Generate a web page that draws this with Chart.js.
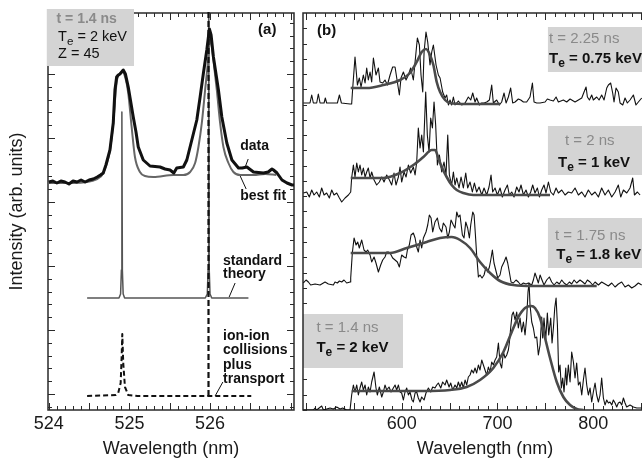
<!DOCTYPE html>
<html><head><meta charset="utf-8">
<script src="https://cdn.jsdelivr.net/npm/chart.js@4.4.0/dist/chart.umd.min.js"></script>
<style>
html,body{margin:0;padding:0;background:#fff;overflow:hidden;width:642px;height:462px;}
#wrap{position:relative;width:642px;height:462px;overflow:hidden;background:#fff;}
#ca{position:absolute;left:0;top:0;width:300px;height:462px;}
#cb{position:absolute;left:300px;top:0;width:370px;height:462px;}
</style></head><body>
<div id="wrap"><canvas id="ca" width="300" height="462"></canvas><canvas id="cb" width="370" height="462"></canvas></div>
<script>
const FONT = '"Liberation Sans", Arial, Helvetica, sans-serif';

// ---------- Panel (a): wavelength (nm) vs intensity (arb. units) ----------
const aTicks = [524, 525, 526];
const aDataX = [524.00,524.05,524.10,524.15,524.20,524.25,524.30,524.35,524.40,524.45,
  524.50,524.55,524.60,524.64,524.675,524.708,524.758,524.799,524.82,524.841,
  524.861,524.882,524.923,524.95,524.985,525.012,525.047,525.081,525.109,525.171,
  525.255,525.379,525.441,525.503,525.55,525.586,525.668,525.711,525.773,525.835,
  525.876,525.917,525.959,525.991,526.012,526.041,526.103,526.145,526.207,526.27,
  526.352,526.398,526.456,526.538,526.662,526.72,526.767,526.786,526.829,526.891,
  526.953,527.015,527.04];
const aDataY = [228,229,227,229,228,226,229,228,230,228,
  230,231,233,235,237,245,260,287,320,333,
  335,336,340,336,323,310,293,278,263,250,
  244,243,241,240,237,242,243,250,270,290,
  313,337,360,381,375,353,320,293,267,250,
  242,242,243,238,237,238,241,240,237,230,
  227,225,225];
const aFitX = [524.00,524.30,524.60,524.675,524.758,524.799,524.841,524.882,524.913,524.95,
  524.985,525.027,525.068,525.13,525.193,525.296,525.544,525.668,525.752,525.814,
  525.855,525.897,525.938,525.979,525.998,526.019,526.041,526.083,526.124,526.165,
  526.227,526.289,526.373,526.538,526.683,526.82];
const aFitY = [227,227,231,237,260,287,328,336,338,332,
  317,283,253,238,234,233,235,235,238,247,
  263,287,320,353,372,365,350,320,287,263,
  247,238,235,235,236,235];
const aStdX = [524.475,524.87,524.89,524.9,524.906,524.912,524.922,524.94,525.94,525.965,525.975,525.982,525.989,525.999,526.02,526.475];
const aStdY = [112,112,116,140,298,140,116,112,112,116,140,500,140,116,112,112];
const aIonX = [524.475,524.83,524.861,524.891,524.903,524.911,524.923,524.944,524.985,525.1,526.51];
const aIonY = [14,15,17,27,53,76,47,23,15,14,14];
const aIonSpikeX = [525.98,525.98];
const aIonSpikeY = [14,500];

// ---------- Panel (b): four time-resolved spectra ----------
const bTicks = [600, 700, 800];
const b225X = [497.4,504.3,506.1,507.8,511.3,513.0,514.8,519.0,520.3,521.7,
 532.9,535.0,537.1,546.1,547.8,548.9,551.3,553.8,555.8,557.6,
 560.0,561.8,563.5,565.2,567.0,568.7,570.5,573.2,575.7,577.4,
 580.2,582.6,585.1,587.9,590.6,593.1,595.5,597.6,599.3,601.8,
 604.6,607.0,609.4,612.2,615.0,616.4,618.5,620.2,622.0,623.4,
 625.4,627.2,629.6,631.4,633.1,635.9,638.3,640.1,642.8,645.3,
 647.0,648.8,650.5,652.2,654.0,655.7,659.2,662.7,666.2,669.6,
 672.1,674.2,676.6,678.3,681.1,683.6,686.0,688.8,691.6,694.0,
 695.7,699.2,702.0,704.4,706.9,709.0,711.4,713.8,715.9,718.4,
 721.8,724.3,727.1,730.5,734.0,736.5,738.2,741.0,744.5,749.7,
 752.1,754.9,758.4,761.2,763.6,768.8,772.3,775.8,781.0,784.5,
 788.0,790.4,792.5,793.9,796.0,798.4,800.1,803.6,806.1,808.8,
 811.3,814.1,815.8,818.2,820.3,821.7,823.8,826.2,828.0,830.8,
 833.2,835.6,838.4,841.9,844.6,847.1,850.6];
const b225Y = [307,307,315,307,307,316,307,307,312,307,
 307,315,307,306,306,322,353,325,332,323,
 335,327,342,330,338,328,352,335,342,328,
 327,330,325,335,343,343,328,315,332,338,
 330,335,342,330,358,372,365,335,318,358,
 378,368,345,358,365,345,335,332,318,312,
 315,305,310,305,313,305,309,305,307,313,
 310,317,308,312,305,307,307,308,310,325,
 307,310,305,308,317,307,313,322,307,308,
 311,310,308,308,313,327,308,307,307,308,
 311,310,309,313,308,310,308,311,308,310,
 312,318,323,313,310,315,310,313,310,315,
 310,322,325,327,317,308,322,318,307,305,
 312,307,310,315,305,308,312];
const b225FitX = [546.8,563.5,580.9,598.3,608.7,615.7,620.9,625.4,629.6,633.1,636.6,640.1,645.3,650.5,667.9,702.7];
const b225FitY = [322,322,325,330,337,348,358,361,355,345,328,318,310,307,306,306];

const b200X = [497.4,500.9,503.6,506.1,508.5,511.3,514.1,516.5,519.0,521.7,
 524.5,527.0,529.4,532.2,535.0,537.4,540.9,544.4,546.8,547.8,
 549.6,551.3,553.1,554.8,556.5,558.3,560.0,561.8,563.5,565.2,
 567.0,568.7,571.2,573.9,576.7,579.2,581.6,584.4,587.2,589.6,
 592.0,594.1,596.6,598.3,600.0,602.5,604.6,607.0,609.4,612.2,
 614.0,615.7,617.4,619.2,620.9,622.7,625.1,626.8,628.6,630.3,
 632.1,633.8,635.5,637.3,639.4,641.8,644.2,646.3,648.1,649.8,
 652.2,654.0,655.7,657.5,659.9,662.0,664.4,666.9,668.9,671.4,
 673.8,675.9,678.3,680.8,683.6,686.0,688.8,691.2,693.3,695.0,
 697.5,699.9,702.7,705.1,707.9,710.4,712.4,714.9,717.3,720.1,
 722.5,724.6,727.1,729.8,732.3,734.7,736.8,739.2,741.7,743.8,
 746.2,748.6,750.7,753.2,755.6,758.4,761.2,763.6,767.1,770.6,
 774.0,777.5,781.0,784.5,788.0,791.4,794.9,798.4,801.9,805.4,
 808.8,812.3,815.8,819.3,822.8,826.2,828.7,831.5,835.0,838.4,
 841.2,843.0,846.1,848.9];
const b200Y = [217,218,213,220,215,218,213,222,215,217,
 212,220,215,217,212,208,212,215,218,232,
 245,233,247,238,245,235,242,233,238,242,
 232,238,230,225,228,233,228,235,230,225,
 237,225,233,243,228,238,233,245,237,243,
 235,248,282,262,275,258,318,275,258,292,
 282,308,285,245,255,238,248,235,275,235,
 225,238,225,232,222,233,222,237,222,228,
 218,227,218,223,215,222,215,223,235,218,
 222,215,222,213,220,225,215,218,213,223,
 218,225,215,220,213,218,225,217,222,213,
 220,225,217,228,218,215,222,217,220,215,
 218,217,222,215,218,213,220,215,218,213,
 222,215,220,213,218,225,213,220,217,222,
 232,215,218,215];
const b200FitX = [546.8,580.9,598.3,612.2,622.7,631.4,634.8,638.3,641.8,647.0,652.2,657.5,664.4,674.9,702.7,754.9];
const b200FitY = [232,232,237,245,253,260,260,252,243,233,225,220,217,215,215,215];

const b175X = [497.4,500.2,502.6,505.0,509.6,514.8,520.0,523.5,528.7,530.4,
 532.9,535.0,537.4,539.8,542.6,546.1,546.8,548.5,550.3,552.4,
 554.1,555.8,558.3,560.7,562.8,564.5,567.0,568.7,571.2,573.2,
 575.7,578.1,580.2,582.6,584.4,586.1,587.9,590.6,593.1,595.5,
 597.6,600.0,602.5,604.6,606.0,608.0,609.8,612.2,614.0,615.7,
 617.4,619.2,620.9,622.7,625.4,627.2,628.9,630.7,632.4,634.8,
 637.3,639.4,641.8,643.5,646.3,648.1,649.8,651.5,654.0,655.7,
 657.5,659.2,660.9,663.4,665.1,666.9,668.9,670.7,672.1,674.2,
 675.6,677.0,678.3,680.1,681.8,683.9,686.0,688.1,689.8,691.6,
 693.0,694.7,696.4,698.2,700.3,702.7,704.4,706.9,709.0,710.7,
 712.4,714.2,716.6,719.4,721.8,724.3,727.1,729.8,732.3,735.8,
 737.5,739.2,741.0,742.7,744.5,746.5,748.6,751.4,754.2,756.6,
 759.1,761.9,764.6,767.1,769.5,772.3,775.1,777.5,780.0,782.7,
 786.2,789.0,791.4,793.9,796.7,799.4,801.9,805.4,808.8,812.3,
 815.8,819.3,822.8,826.2,829.7,833.2,836.7,840.2,843.6,847.1,
 850.6];
const b175Y = [127,130,128,125,126,125,128,126,125,128,
 127,129,128,130,127,128,132,157,172,165,
 168,162,170,160,158,160,155,148,153,147,
 138,145,150,153,158,158,157,152,150,148,
 143,155,153,152,160,165,175,177,172,163,
 158,170,162,172,178,185,195,192,178,188,
 192,182,178,187,183,172,178,190,185,182,
 198,193,195,175,172,188,182,172,185,198,
 195,175,155,133,135,132,135,143,138,143,
 150,160,147,140,132,135,143,148,153,147,
 138,128,127,130,128,125,127,126,127,125,
 130,137,132,127,135,130,125,130,133,128,
 125,128,126,130,127,125,128,126,130,127,
 130,128,126,130,128,125,128,125,128,126,
 124,127,123,126,128,123,125,122,124,127,
 125];
const b175FitX = [546.8,587.9,605.3,626.1,640.1,652.2,661.0,671.4,681.8,692.3,702.7,716.6,737.5,772.3,803.6];
const b175FitY = [157,157,162,168,172,173,170,162,148,137,129,125,124,124,124];

const b140X = [497.4,507.8,509.6,511.3,516.5,518.3,525.2,528.7,532.2,535.7,
 538.4,542.6,546.1,547.8,549.6,551.3,553.1,554.8,556.5,558.3,
 560.0,561.8,563.5,565.2,567.0,568.7,571.2,573.2,574.6,576.7,
 579.2,580.9,582.6,584.4,586.8,588.9,591.3,593.1,594.8,596.6,
 598.3,600.0,601.8,603.5,605.3,607.0,608.7,610.8,612.2,614.0,
 615.7,617.4,619.2,620.9,623.4,625.4,627.9,630.3,632.4,634.8,
 636.6,638.3,640.8,642.8,645.3,647.0,649.5,651.2,653.3,655.7,
 657.5,659.2,660.9,662.7,664.4,666.2,667.9,669.6,671.4,673.1,
 674.9,676.6,678.3,680.1,681.8,683.6,685.3,687.0,688.8,690.5,
 692.3,694.0,695.7,697.5,699.2,701.0,702.7,704.4,706.2,707.9,
 709.7,711.4,712.4,713.8,715.2,716.6,718.4,720.1,721.8,723.6,
 725.3,727.1,728.8,730.5,731.9,733.0,734.0,735.8,737.5,739.2,
 741.0,742.7,744.5,746.2,747.2,748.6,750.4,752.1,753.5,755.6,
 757.0,758.4,759.8,761.2,762.6,763.9,765.3,766.7,768.1,769.5,
 771.3,772.3,774.0,775.8,777.5,779.3,781.0,782.7,784.5,786.2,
 788.0,789.7,791.4,793.2,794.9,796.7,798.4,800.1,801.9,803.6,
 805.4,807.1,808.8,810.6,812.3,814.1,815.8,817.5,819.3,821.0,
 822.8,824.5,826.2,828.0,829.7,831.5,833.2,834.9,838.4,841.9,
 845.4,850.6];
const b140Y = [0,0,2,0,4,0,2,1,3,1,
 2,0,0,15,25,18,25,15,22,28,
 20,25,15,23,18,28,38,22,15,23,
 13,18,25,20,23,18,22,25,20,25,
 18,17,10,18,22,15,18,10,8,17,
 18,12,8,13,10,17,22,18,23,22,
 25,27,22,28,25,30,23,27,20,25,
 22,28,23,28,22,30,25,33,35,40,
 37,42,37,45,40,50,45,40,35,43,
 38,48,45,50,53,67,47,42,58,52,
 55,60,67,82,95,98,90,98,82,92,
 78,88,75,92,118,127,105,88,82,72,
 73,55,65,93,72,92,70,97,75,92,
 67,82,102,112,85,38,45,22,32,18,
 42,25,45,28,58,48,32,47,25,28,
 15,30,42,25,15,22,8,18,27,15,
 8,15,32,12,5,10,7,8,5,10,
 7,3,7,8,5,12,7,3,5,3,
 2,2];
const b140FitX = [547.8,580.9,622.7,650.5,667.9,681.8,695.7,706.2,714.9,721.8,728.8,735.1,739.2,744.5,749.7,754.9,761.9,768.8,775.8,782.8,789.7];
const b140FitY = [19,19,19,20,23,30,42,58,78,93,102,104,102,92,72,52,28,13,5,1,0];

// ---------- helpers ----------
const pts = (xs, ys) => xs.map((x, i) => ({x: x, y: ys[i]}));

function tickValues(min, max, step, off) {
  const out = [];
  let k = Math.ceil((min - off) / step - 1e-6);
  for (; off + k * step <= max + 1e-6; k++) out.push(off + k * step);
  return out;
}
function isMajor(v, major, off) {
  if (!major) return false;
  const r = (v - off) / major;
  return Math.abs(r - Math.round(r)) < 1e-4;
}
function setFont(ctx, size, bold) {
  ctx.font = (bold ? 'bold ' : '') + size + 'px ' + FONT;
}
function drawRich(ctx, x, y, parts, size, bold, color, align) {
  const subSize = size * 0.8;
  const widths = parts.map(p => { setFont(ctx, p[1] ? subSize : size, bold); return ctx.measureText(p[0]).width; });
  const total = widths.reduce((a, b) => a + b, 0);
  let cx = align === 'center' ? x - total / 2 : x;
  ctx.fillStyle = color; ctx.textBaseline = 'alphabetic'; ctx.textAlign = 'left';
  parts.forEach((p, i) => {
    setFont(ctx, p[1] ? subSize : size, bold);
    ctx.fillText(p[0], cx, p[1] ? y + size * 0.25 : y);
    cx += widths[i];
  });
}

function makeDecor(cfg) {
  return {
    id: 'decor',
    beforeDatasetsDraw(chart) {
      const {ctx, chartArea: a} = chart;
      const xs = chart.scales.x, ys = chart.scales.y;
      const X = v => xs.getPixelForValue(v), Y = v => ys.getPixelForValue(v);
      const fillBox = b => {
        const x0 = X(b.x0), x1 = X(b.x1), y0 = Y(b.y1), y1 = Y(b.y0);
        ctx.fillRect(x0, y0, x1 - x0, y1 - y0);
      };
      ctx.save();
      // inward ticks
      ctx.strokeStyle = '#2a2a2a'; ctx.lineWidth = 1; ctx.beginPath();
      tickValues(xs.min, xs.max, cfg.xStep, 0).forEach(v => {
        const p = Math.round(X(v)) + 0.5;
        const L = isMajor(v, cfg.xMajor, 0) ? 7 : 4;
        ctx.moveTo(p, a.bottom); ctx.lineTo(p, a.bottom - L);
        ctx.moveTo(p, a.top); ctx.lineTo(p, a.top + L);
      });
      tickValues(ys.min, ys.max, cfg.yStep, cfg.yOff).forEach(v => {
        const p = Math.round(Y(v)) + 0.5;
        const L = isMajor(v, cfg.yMajor, cfg.yOff) ? 7 : 4;
        ctx.moveTo(a.left, p); ctx.lineTo(a.left + L, p);
        ctx.moveTo(a.right, p); ctx.lineTo(a.right - L, p);
      });
      ctx.stroke();
      // grey label boxes (inside the frame)
      ctx.save();
      ctx.beginPath(); ctx.rect(a.left, a.top, a.right - a.left, a.bottom - a.top); ctx.clip();
      ctx.fillStyle = '#d4d4d4';
      cfg.boxes.filter(b => !b.over).forEach(fillBox);
      ctx.restore();
      // frame
      ctx.strokeStyle = '#2a2a2a'; ctx.lineWidth = 1.5;
      ctx.strokeRect(a.left, a.top, a.right - a.left, a.bottom - a.top);
      // boxes that sit over the frame
      ctx.fillStyle = '#d4d4d4';
      cfg.boxes.filter(b => b.over).forEach(fillBox);
      // texts
      cfg.texts.forEach(t => {
        const parts = typeof t.s === 'string' ? [[t.s, 0]] : t.s;
        drawRich(ctx, X(t.x), Y(t.y), parts, t.size, t.bold, t.color || '#111', t.align);
      });
      ctx.restore();
    },
    afterDatasetsDraw(chart) {
      const {ctx} = chart;
      const xs = chart.scales.x, ys = chart.scales.y;
      ctx.save(); ctx.strokeStyle = '#111'; ctx.lineWidth = 1; ctx.beginPath();
      (cfg.pointers || []).forEach(p => {
        ctx.moveTo(xs.getPixelForValue(p[0]), ys.getPixelForValue(p[1]));
        ctx.lineTo(xs.getPixelForValue(p[2]), ys.getPixelForValue(p[3]));
      });
      ctx.stroke(); ctx.restore();
    }
  };
}

function xAxis(min, max, ticks) {
  return {
    type: 'linear', min: min, max: max,
    afterBuildTicks: s => { s.ticks = ticks.map(v => ({value: v})); },
    afterFit: s => { s.height = 52; },
    grid: {display: false, drawTicks: false}, border: {display: false},
    ticks: {font: {family: FONT, size: 18}, color: '#1a1a1a', padding: 3, maxRotation: 0, autoSkip: false, callback: v => String(v)},
    title: {display: true, text: 'Wavelength (nm)', font: {family: FONT, size: 18}, color: '#1a1a1a', padding: {top: 0, bottom: 2}}
  };
}
function common(padding) {
  return {
    responsive: false, animation: false, devicePixelRatio: 1, events: [],
    layout: {padding: padding},
    plugins: {legend: {display: false}, tooltip: {enabled: false}},
    elements: {point: {radius: 0}, line: {tension: 0, borderJoinStyle: 'round'}}
  };
}

// ---------- chart (a) ----------
const optA = common({left: 0, right: 6, top: 13, bottom: 0});
optA.scales = {
  x: xAxis(523.99, 527.04, aTicks),
  y: {type: 'linear', min: 0, max: 397, afterFit: s => { s.width = 48; },
      ticks: {display: false}, grid: {display: false, drawTicks: false}, border: {display: false},
      title: {display: true, text: 'Intensity (arb. units)', font: {family: FONT, size: 18}, color: '#1a1a1a', padding: {top: 6, bottom: 0}}}
};
new Chart(document.getElementById('ca'), {
  type: 'line',
  data: {datasets: [
    {label: 'ion-ion spike', data: pts(aIonSpikeX, aIonSpikeY), borderColor: '#111', borderWidth: 2.2, borderDash: [6, 3], clip: {left: 0, top: 4, right: 0, bottom: 0}, order: 0},
    {label: 'data', data: pts(aDataX, aDataY), borderColor: '#111', borderWidth: 3, order: 1},
    {label: 'best fit', data: pts(aFitX, aFitY), borderColor: '#666', borderWidth: 2, cubicInterpolationMode: 'monotone', order: 2},
    {label: 'standard theory', data: pts(aStdX, aStdY), borderColor: '#555', borderWidth: 1.5, order: 3},
    {label: 'ion-ion collisions plus transport', data: pts(aIonX, aIonY), borderColor: '#111', borderWidth: 2, borderDash: [5, 3], order: 4}
  ]},
  options: optA,
  plugins: [makeDecor({
    xStep: 0.1, xMajor: 0.5, yStep: 12.8, yMajor: 64, yOff: 16,
    boxes: [{x0: 523.975, x1: 525.056, y0: 344, y1: 401, over: true}],
    texts: [
      {x: 524.096, y: 387, s: 't = 1.4 ns', size: 14, bold: true, color: '#8a8a8a'},
      {x: 524.115, y: 369, s: [['T', 0], ['e', 1], [' = 2 keV', 0]], size: 14.5},
      {x: 524.115, y: 352, s: 'Z = 45', size: 14.5},
      {x: 526.708, y: 376, s: '(a)', size: 15, bold: true, align: 'center'},
      {x: 526.373, y: 260, s: 'data', size: 14, bold: true},
      {x: 526.373, y: 210, s: 'best fit', size: 14, bold: true},
      {x: 526.16, y: 145, s: 'standard', size: 14, bold: true},
      {x: 526.16, y: 132, s: 'theory', size: 14, bold: true},
      {x: 526.16, y: 70, s: 'ion-ion', size: 14, bold: true},
      {x: 526.16, y: 56, s: 'collisions', size: 14, bold: true},
      {x: 526.16, y: 41, s: 'plus', size: 14, bold: true},
      {x: 526.16, y: 27, s: 'transport', size: 14, bold: true}
    ],
    pointers: [
      [526.472, 251, 526.435, 243],
      [526.373, 234, 526.447, 221],
      [526.31, 127, 526.236, 113],
      [526.158, 28, 526.062, 14]
    ]
  })]
});

// ---------- chart (b) ----------
const optB = common({left: 3, right: 3, top: 13, bottom: 0});
optB.scales = {
  x: xAxis(497, 877, bTicks),
  y: {type: 'linear', min: 0, max: 397, display: false}
};
const fitStyle = {borderColor: '#4a4a4a', borderWidth: 2.6, cubicInterpolationMode: 'monotone'};
const dataStyle = {borderColor: '#111', borderWidth: 1.1};
new Chart(document.getElementById('cb'), {
  type: 'line',
  data: {datasets: [
    Object.assign({label: 'fit 2.25 ns', data: pts(b225FitX, b225FitY), order: 0}, fitStyle),
    Object.assign({label: 'fit 2 ns', data: pts(b200FitX, b200FitY), order: 0}, fitStyle),
    Object.assign({label: 'fit 1.75 ns', data: pts(b175FitX, b175FitY), order: 0}, fitStyle),
    Object.assign({label: 'fit 1.4 ns', data: pts(b140FitX, b140FitY), order: 0}, fitStyle),
    Object.assign({label: 't = 2.25 ns', data: pts(b225X, b225Y), order: 1}, dataStyle),
    Object.assign({label: 't = 2 ns', data: pts(b200X, b200Y), order: 1}, dataStyle),
    Object.assign({label: 't = 1.75 ns', data: pts(b175X, b175Y), order: 1}, dataStyle),
    Object.assign({label: 't = 1.4 ns', data: pts(b140X, b140Y), order: 1}, dataStyle)
  ]},
  options: optB,
  plugins: [makeDecor({
    xStep: 10, xMajor: 50, yStep: 15.27, yMajor: 0, yOff: 0,
    boxes: [
      {x0: 752.7, x1: 880, y0: 338, y1: 383},
      {x0: 752.7, x1: 880, y0: 235, y1: 284},
      {x0: 752.7, x1: 880, y0: 142, y1: 192},
      {x0: 497, x1: 601.4, y0: 42, y1: 96}
    ],
    texts: [
      {x: 511.6, y: 375, s: '(b)', size: 15, bold: true},
      {x: 753.8, y: 367, s: 't = 2.25 ns', size: 15, color: '#8a8a8a'},
      {x: 753.8, y: 347, s: [['T', 0], ['e', 1], [' = 0.75 keV', 0]], size: 15, bold: true},
      {x: 770.5, y: 265, s: 't = 2 ns', size: 15, color: '#8a8a8a'},
      {x: 763.2, y: 243, s: [['T', 0], ['e', 1], [' = 1 keV', 0]], size: 15, bold: true},
      {x: 760.0, y: 170, s: 't = 1.75 ns', size: 15, color: '#8a8a8a'},
      {x: 761.5, y: 151, s: [['T', 0], ['e', 1], [' = 1.8 keV', 0]], size: 15, bold: true},
      {x: 511.0, y: 78, s: 't = 1.4 ns', size: 15, color: '#8a8a8a'},
      {x: 511.0, y: 58, s: [['T', 0], ['e', 1], [' = 2 keV', 0]], size: 15, bold: true}
    ]
  })]
});
</script>
</body></html>
